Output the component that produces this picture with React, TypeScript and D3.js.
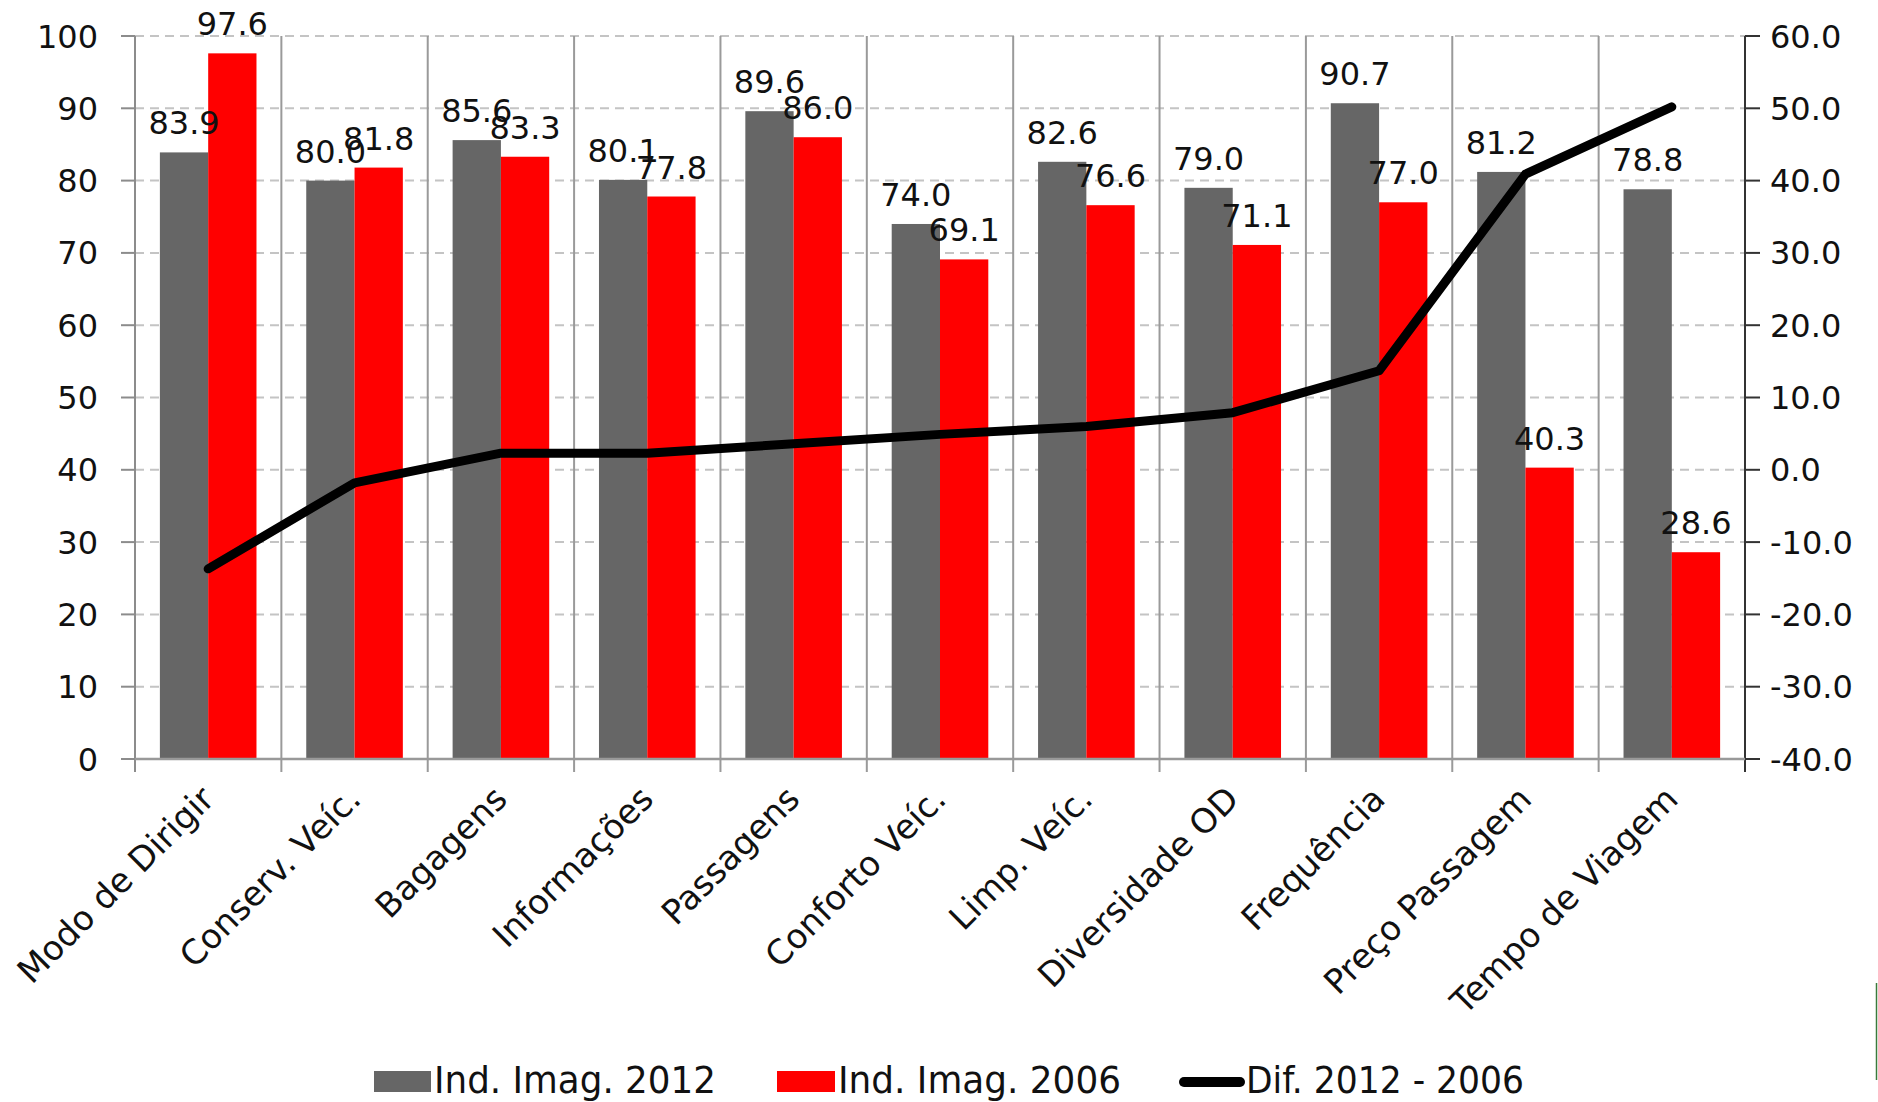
import React, { useEffect, useRef } from "react";
import * as d3 from "d3";

const categories = [
  "Modo de Dirigir",
  "Conserv. Veíc.",
  "Bagagens",
  "Informações",
  "Passagens",
  "Conforto Veíc.",
  "Limp. Veíc.",
  "Diversidade OD",
  "Frequência",
  "Preço Passagem",
  "Tempo de Viagem",
];
const ind2012 = [83.9, 80.0, 85.6, 80.1, 89.6, 74.0, 82.6, 79.0, 90.7, 81.2, 78.8];
const ind2006 = [97.6, 81.8, 83.3, 77.8, 86.0, 69.1, 76.6, 71.1, 77.0, 40.3, 28.6];
const dif = [-13.7, -1.8, 2.3, 2.3, 3.6, 4.9, 6.0, 7.9, 13.7, 40.9, 50.2];
const leftTicks = [0, 10, 20, 30, 40, 50, 60, 70, 80, 90, 100];
const rightTicks = [-40, -30, -20, -10, 0, 10, 20, 30, 40, 50, 60];
const legendItems = ["Ind. Imag. 2012", "Ind. Imag. 2006", "Dif. 2012 - 2006"];

const W = 1878;
const H = 1102;
const FONT = "DejaVu Sans, Verdana, sans-serif";

export default function App() {
  const svgRef = useRef<SVGSVGElement>(null);

  useEffect(() => {
    if (!svgRef.current) return;
    const svg = d3.select(svgRef.current);
    svg.selectAll("*").remove();

    const left = 135;
    const right = 1745;
    const top = 36;
    const bottom = 759;

    const x = d3.scaleBand<string>().domain(categories).range([left, right]).padding(0);
    const yL = d3.scaleLinear().domain([0, 100]).range([bottom, top]);
    const yR = d3.scaleLinear().domain([-40, 60]).range([bottom, top]);
    const bw = x.bandwidth() * 0.33;
    const off = x.bandwidth() * 0.17;

    svg.append("rect").attr("width", W).attr("height", H).attr("fill", "#fff");

    // horizontal dashed grid
    svg.append("g")
      .selectAll("line")
      .data(leftTicks.filter((d) => d > 0))
      .enter()
      .append("line")
      .attr("x1", left)
      .attr("x2", right)
      .attr("y1", (d) => yL(d))
      .attr("y2", (d) => yL(d))
      .attr("stroke", "#c4c4c4")
      .attr("stroke-width", 2)
      .attr("stroke-dasharray", "9,6");

    // vertical category separators (with ticks below axis)
    const seps = categories.map((c) => x(c) as number).concat([right]);
    svg.append("g")
      .selectAll("line")
      .data(seps.slice(1, -1))
      .enter()
      .append("line")
      .attr("x1", (d) => d)
      .attr("x2", (d) => d)
      .attr("y1", top)
      .attr("y2", bottom + 13)
      .attr("stroke", "#9a9a9a")
      .attr("stroke-width", 2);

    // bars
    const bars = svg.append("g");
    bars.selectAll(".g12")
      .data(categories)
      .enter()
      .append("rect")
      .attr("x", (d) => (x(d) as number) + off)
      .attr("y", (d, i) => yL(ind2012[i]))
      .attr("width", bw)
      .attr("height", (d, i) => bottom - yL(ind2012[i]))
      .attr("fill", "#666666");
    bars.selectAll(".g06")
      .data(categories)
      .enter()
      .append("rect")
      .attr("x", (d) => (x(d) as number) + off + bw)
      .attr("y", (d, i) => yL(ind2006[i]))
      .attr("width", bw)
      .attr("height", (d, i) => bottom - yL(ind2006[i]))
      .attr("fill", "#ff0000");

    // left axis
    const gl = svg.append("g");
    gl.append("line")
      .attr("x1", left).attr("x2", left)
      .attr("y1", top).attr("y2", bottom + 13)
      .attr("stroke", "#8c8c8c").attr("stroke-width", 2);
    leftTicks.forEach((t) => {
      gl.append("line")
        .attr("x1", left - 14).attr("x2", left)
        .attr("y1", yL(t)).attr("y2", yL(t))
        .attr("stroke", "#8c8c8c").attr("stroke-width", 2);
      gl.append("text")
        .attr("x", 98).attr("y", yL(t)).attr("dy", "0.36em")
        .attr("text-anchor", "end")
        .style("font-family", FONT).style("font-size", "32px")
        .attr("fill", "#111")
        .text(String(t));
    });

    // right axis
    const gr = svg.append("g");
    gr.append("line")
      .attr("x1", right).attr("x2", right)
      .attr("y1", top).attr("y2", bottom + 13)
      .attr("stroke", "#333").attr("stroke-width", 2);
    rightTicks.forEach((t) => {
      gr.append("line")
        .attr("x1", right).attr("x2", right + 15)
        .attr("y1", yR(t)).attr("y2", yR(t))
        .attr("stroke", "#333").attr("stroke-width", 2);
      gr.append("text")
        .attr("x", 1770).attr("y", yR(t)).attr("dy", "0.36em")
        .attr("text-anchor", "start")
        .style("font-family", FONT).style("font-size", "32px")
        .attr("fill", "#111")
        .text(t.toFixed(1));
    });

    // bottom axis
    svg.append("line")
      .attr("x1", left).attr("x2", right)
      .attr("y1", bottom).attr("y2", bottom)
      .attr("stroke", "#999").attr("stroke-width", 2.5);

    // difference line
    const line = d3.line<number>()
      .x((d, i) => (x(categories[i]) as number) + x.bandwidth() / 2)
      .y((d) => yR(d));
    svg.append("path")
      .datum(dif)
      .attr("d", line)
      .attr("fill", "none")
      .attr("stroke", "#000")
      .attr("stroke-width", 9)
      .attr("stroke-linejoin", "round")
      .attr("stroke-linecap", "round");

    // data labels
    const lbl = svg.append("g")
      .style("font-family", FONT).style("font-size", "32px").attr("fill", "#111")
      .attr("text-anchor", "middle");
    categories.forEach((c, i) => {
      lbl.append("text")
        .attr("x", (x(c) as number) + off + bw / 2)
        .attr("y", yL(ind2012[i]) - 18)
        .text(ind2012[i].toFixed(1));
      lbl.append("text")
        .attr("x", (x(c) as number) + off + bw * 1.5)
        .attr("y", yL(ind2006[i]) - 18)
        .text(ind2006[i].toFixed(1));
    });

    // category labels
    const cl = svg.append("g")
      .style("font-family", FONT).style("font-size", "34px").attr("fill", "#111");
    categories.forEach((c) => {
      const cx = (x(c) as number) + x.bandwidth() / 2 + 8;
      const cy = bottom + 42;
      cl.append("text")
        .attr("transform", `translate(${cx},${cy}) rotate(-45)`)
        .attr("text-anchor", "end")
        .text(c);
    });

    // legend
    const lg = svg.append("g").style("font-family", FONT).style("font-size", "38px").attr("fill", "#111");
    lg.append("rect").attr("x", 374).attr("y", 1071).attr("width", 57).attr("height", 21).attr("fill", "#666666");
    lg.append("text").attr("x", 434).attr("y", 1093)
      .attr("textLength", 282).attr("lengthAdjust", "spacingAndGlyphs").text(legendItems[0]);
    lg.append("rect").attr("x", 777).attr("y", 1071).attr("width", 58).attr("height", 21).attr("fill", "#ff0000");
    lg.append("text").attr("x", 838).attr("y", 1093)
      .attr("textLength", 283).attr("lengthAdjust", "spacingAndGlyphs").text(legendItems[1]);
    lg.append("line").attr("x1", 1184).attr("x2", 1240).attr("y1", 1082).attr("y2", 1082)
      .attr("stroke", "#000").attr("stroke-width", 10).attr("stroke-linecap", "round");
    lg.append("text").attr("x", 1246).attr("y", 1093)
      .attr("textLength", 278).attr("lengthAdjust", "spacingAndGlyphs").text(legendItems[2]);

    // thin edge mark at right border
    svg.append("line")
      .attr("x1", 1876.5).attr("x2", 1876.5).attr("y1", 983).attr("y2", 1080)
      .attr("stroke", "#3a7a3a").attr("stroke-width", 1.5);
  }, []);

  return (
    <svg
      ref={svgRef}
      width={W}
      height={H}
      style={{ position: "absolute", left: 0, top: 0, display: "block" }}
    />
  );
}
